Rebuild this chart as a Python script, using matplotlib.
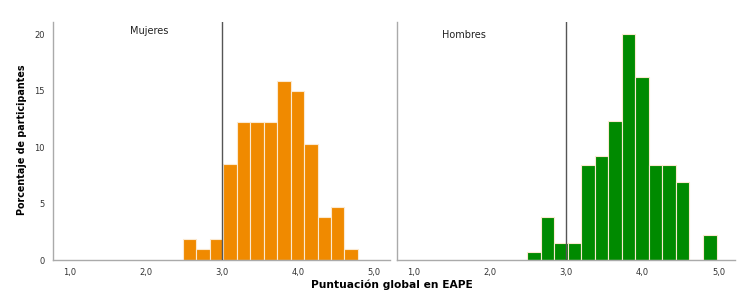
import matplotlib
matplotlib.use('agg')
import matplotlib.pyplot as plt
import numpy as np

# Percentage of participants per score bin
binStart = 2.49
binWidth = 0.177
mujeres = [1.9, 0.95, 1.9, 8.5, 12.2, 12.2, 12.2, 15.9, 15.0, 10.3, 3.8, 4.7, 0.95]
hombres = [0.75, 3.8, 1.5, 1.5, 8.45, 9.2, 12.3, 20.0, 16.2, 8.45, 8.45, 6.9, 0.0, 2.25]

xTicks = [1.0, 2.0, 3.0, 4.0, 5.0]
xTickLabels = ['1,0', '2,0', '3,0', '4,0', '5,0']
yTicks = [0, 5, 10, 15, 20]
cutOff = 3.0

# title, values, colour, title position in axes coords
panels = [('Mujeres', mujeres, '#f08a00', (0.285, 0.962)),
          ('Hombres', hombres, '#008a00', (0.198, 0.945))]

fig = plt.figure(figsize=(7.5, 3.07), dpi=100)
axLeft = fig.add_axes([0.0707, 0.153, 0.449, 0.776])
axRight = fig.add_axes([0.529, 0.153, 0.451, 0.776])

for ax, (title, values, color, titlePos) in zip([axLeft, axRight], panels):
    edges = binStart + binWidth * np.arange(len(values))
    ax.bar(edges, values, width=binWidth, align='edge', color=color,
           edgecolor='#fbe9d0', linewidth=0.8, zorder=2)
    ax.axvline(cutOff, color='#555555', linewidth=1.0, zorder=3)

    ax.set_xlim(0.78, 5.21)
    ax.set_ylim(0, 21.1)
    ax.set_xticks(xTicks)
    ax.set_xticklabels(xTickLabels)
    ax.set_yticks(yTicks)
    ax.tick_params(length=0, labelsize=6, colors='#333333', pad=6)

    for side in ['top', 'right']:
        ax.spines[side].set_visible(False)
    for side in ['left', 'bottom']:
        ax.spines[side].set_color('#aaaaaa')
        ax.spines[side].set_linewidth(1.0)

    ax.text(titlePos[0], titlePos[1], title, transform=ax.transAxes,
            ha='center', va='center', fontsize=7, color='#222222')

axRight.set_yticklabels([])
fig.text(0.029, 0.544, 'Porcentaje de participantes', rotation=90,
         ha='center', va='center', fontsize=6.9, fontweight='bold')
fig.text(0.523, 0.072, 'Puntuación global en EAPE', ha='center', va='center',
         fontsize=7.7, fontweight='bold')

plt.savefig('out.png', dpi=100)
